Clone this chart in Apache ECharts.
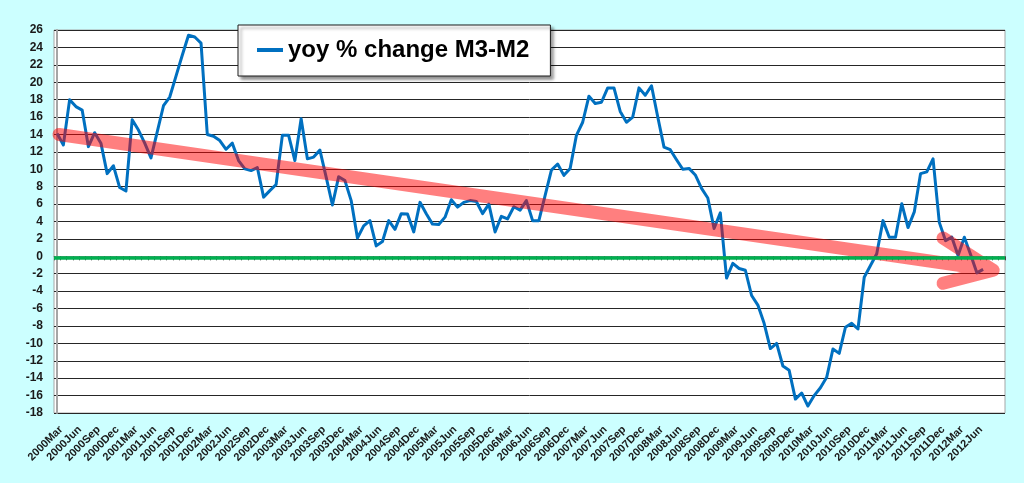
<!DOCTYPE html>
<html>
<head>
<meta charset="utf-8">
<script src="https://cdn.jsdelivr.net/npm/echarts@6/dist/echarts.min.js"></script>
<style>
html,body{margin:0;padding:0;background:#CCFFFF;}
#chart{width:1024px;height:483px;}
</style>
</head>
<body>
<div id="chart"></div>
<script>
// ---- categories: monthly, 2000Mar .. 2012Oct (axis extends past the last data point)
const monthNames = ['Jan','Feb','Mar','Apr','May','Jun','Jul','Aug','Sep','Oct','Nov','Dec'];
const startYear = 2000;
const startMonthIndex = 2;      // March
const categoryCount = 152;
const labelEvery = 3;
const lastLabelledIndex = 147;  // 2012Jun
const categories = [];
for (let k = 0; k < categoryCount; k++) {
  const m = startMonthIndex + k;
  categories.push(String(startYear + Math.floor(m / 12)) + monthNames[m % 12]);
}

// ---- series values (yoy % change M3-M2), 2000Mar .. 2012Jul
const seriesName = 'yoy % change M3-M2';
const yoyM3M2 = [
  14.1, 12.8, 18.0, 17.2, 16.8, 12.6, 14.2, 13.0, 9.5, 10.4, 7.9, 7.5,
  15.7, 14.5, 13.0, 11.3, 14.3, 17.3, 18.3, 20.7, 23.1, 25.4, 25.2, 24.5,
  14.0, 13.8, 13.3, 12.3, 13.0, 11.0, 10.05, 9.85, 10.2, 6.8, 7.55, 8.25,
  13.9, 13.9, 11.0, 15.8, 11.2, 11.4, 12.2, 9.1, 5.9, 9.15, 8.7, 6.4,
  2.1, 3.5, 4.1, 1.2, 1.7, 4.1, 3.1, 4.9, 4.85, 2.8, 6.2, 4.9,
  3.7, 3.65, 4.5, 6.5, 5.65, 6.2, 6.4, 6.3, 4.9, 6.0, 2.8, 4.6,
  4.3, 5.7, 5.3, 6.4, 4.1, 4.1, 7.0, 9.9, 10.6, 9.3, 10.1, 13.9,
  15.4, 18.4, 17.55, 17.7, 19.35, 19.35, 16.65, 15.4, 16.0, 19.35, 18.5, 19.6,
  16.0, 12.55, 12.25, 11.1, 10.0, 10.1, 9.35, 7.8, 6.7, 3.2, 5.0, -2.5,
  -0.8, -1.4, -1.6, -4.5, -5.6, -7.7, -10.6, -10.0, -12.6, -13.1, -16.4, -15.7,
  -17.2, -16.0, -15.1, -13.9, -10.65, -11.15, -8.15, -7.7, -8.35, -2.4, -1.05, 0.3,
  4.1, 2.2, 2.2, 6.05, 3.3, 5.1, 9.5, 9.7, 11.2, 3.9, 1.8, 2.2,
  0.1, 2.2, 0.2, -1.9, -1.5
];

// ---- reference (green) level and hand-drawn trend arrow, in data units [monthIndex, value]
const greenLevel = -0.2;
const trendArrow = [[0.3, 14.0], [149.6, -1.6], [141.6, -3.1], [149.6, -1.6], [141.6, 2.1]];

// ---- y axis ticks
const yMin = -18, yMax = 26, yStep = 2;

const chart = echarts.init(document.getElementById('chart'), null, {renderer: 'canvas'});
const FONT = '"Liberation Sans", Arial, sans-serif';

chart.setOption({
  backgroundColor: '#CCFFFF',
  animation: false,
  textStyle: {fontFamily: FONT},
  grid: {
    left: 54, right: 19, top: 30, bottom: 70,
    show: true, backgroundColor: '#ffffff',
    borderColor: '#a6a6a6', borderWidth: 1
  },
  legend: {
    data: [seriesName],
    left: 238, top: 25,
    icon: 'rect', itemWidth: 26, itemHeight: 4,
    padding: [13, 21, 14, 19],
    backgroundColor: '#ffffff',
    borderColor: '#1a1a1a', borderWidth: 1,
    shadowColor: 'rgba(0,0,0,0.45)', shadowBlur: 3, shadowOffsetX: 3, shadowOffsetY: 3,
    textStyle: {fontSize: 24, fontWeight: 'bold', color: '#000', fontFamily: FONT}
  },
  xAxis: [{
    type: 'category',
    data: categories,
    boundaryGap: true,
    axisLine: {show: true, lineStyle: {color: '#8c8c8c', width: 1}},
    axisTick: {show: true, interval: 0, alignWithLabel: false, length: 4, lineStyle: {color: '#444'}},
    axisLabel: {
      interval: function (index) { return index % labelEvery === 0 && index <= lastLabelledIndex; },
      rotate: 45, fontSize: 11, fontWeight: 'bold', color: '#1a1a1a', margin: 11,
      verticalAlign: 'top', fontFamily: FONT
    },
    splitLine: {show: false}
  }, {
    type: 'value', min: -0.5, max: categoryCount - 0.5, show: false
  }],
  yAxis: {
    type: 'value', min: yMin, max: yMax, interval: yStep,
    axisLine: {show: true, lineStyle: {color: '#a6a6a6', width: 2}},
    axisTick: {show: false},
    axisLabel: {fontSize: 12, fontWeight: 'bold', color: '#1a1a1a', margin: 11, fontFamily: FONT},
    splitLine: {show: true, lineStyle: {color: '#262626', width: 1}}
  },
  series: [{
    name: seriesName,
    type: 'line',
    data: yoyM3M2,
    symbol: 'none',
    showSymbol: false,
    lineStyle: {color: '#0070C0', width: 3, join: 'round'},
    itemStyle: {color: '#0070C0'},
    z: 3,
    markLine: {
      silent: true, symbol: 'none', z: 6,
      label: {show: false},
      lineStyle: {color: '#00B050', width: 3.5, type: 'solid'},
      data: [{yAxis: greenLevel}]
    }
  }, {
    name: 'trend',
    type: 'line',
    xAxisIndex: 1,
    data: trendArrow,
    symbol: 'none',
    showSymbol: false,
    silent: true,
    lineStyle: {color: 'rgba(255,0,0,0.5)', width: 13, cap: 'round', join: 'round'},
    z: 4
  }]
});
</script>
</body>
</html>
